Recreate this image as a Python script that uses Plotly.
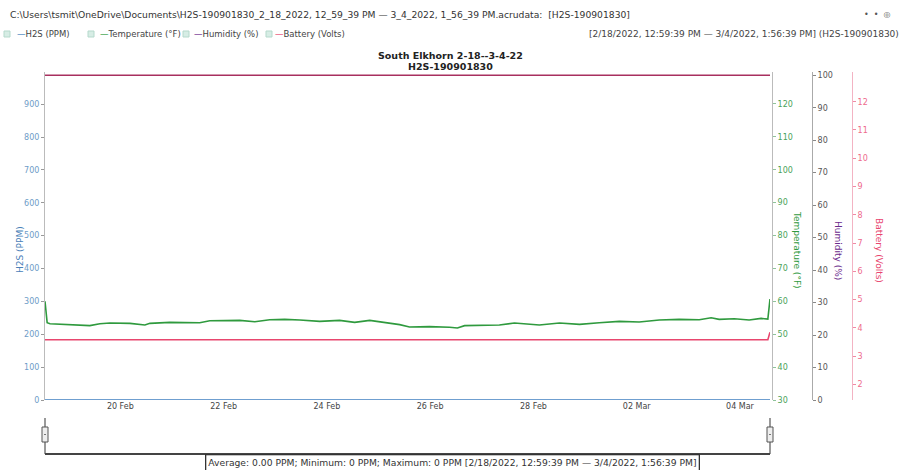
import plotly.graph_objects as go

# ---- logger run ---------------------------------------------------------
run_start = "2022-02-18 12:59:39"
run_end = "2022-03-04 13:56:39"
run_label = "[2/18/2022, 12:59:39 PM \u2014 3/4/2022, 1:56:39 PM]"
device = "H2S-190901830"

# ---- readings -------------------------------------------------------------
temp_times = [
    "2022-02-18 12:59:39", "2022-02-18 13:59:39", "2022-02-18 15:20", "2022-02-19 05:10",
    "2022-02-19 09:50", "2022-02-19 14:30", "2022-02-19 19:10", "2022-02-20 04:30",
    "2022-02-20 11:25", "2022-02-20 13:45", "2022-02-20 23:00", "2022-02-21 12:55",
    "2022-02-21 17:35", "2022-02-22 07:30", "2022-02-22 14:30", "2022-02-22 21:25",
    "2022-02-23 04:25", "2022-02-23 11:25", "2022-02-23 20:40", "2022-02-24 05:55",
    "2022-02-24 12:55", "2022-02-24 19:55", "2022-02-25 02:50", "2022-02-25 09:50",
    "2022-02-25 14:25", "2022-02-25 23:40", "2022-02-26 09:00", "2022-02-26 12:40",
    "2022-02-26 16:00", "2022-02-26 22:55", "2022-02-27 08:10", "2022-02-27 15:10",
    "2022-02-27 22:05", "2022-02-28 02:45", "2022-02-28 12:05", "2022-02-28 21:25",
    "2022-03-01 06:35", "2022-03-01 15:55", "2022-03-02 01:10", "2022-03-02 10:30",
    "2022-03-02 19:45", "2022-03-03 05:05", "2022-03-03 10:35", "2022-03-03 14:20",
    "2022-03-03 21:20", "2022-03-04 04:15", "2022-03-04 09:50", "2022-03-04 12:56:39",
    "2022-03-04 13:56:39",
]
temp_f = [
    60.0, 53.5, 53.2, 52.7, 52.6, 53.2, 53.4, 53.3,
    52.8, 53.3, 53.6, 53.5, 54.1, 54.2, 53.8, 54.4,
    54.5, 54.3, 53.9, 54.2, 53.6, 54.2, 53.5, 52.9,
    52.2, 52.3, 52.1, 51.9, 52.6, 52.7, 52.8, 53.4,
    53.1, 52.8, 53.4, 53.0, 53.5, 53.9, 53.7, 54.3,
    54.5, 54.4, 55.0, 54.5, 54.7, 54.3, 54.8, 54.6,
    60.7,
]

h2s_times = [run_start, run_end]
h2s_ppm = [0, 0]

humidity_times = [run_start, run_end]
humidity_pct = [100, 100]

battery_times = [run_start, "2022-03-04 12:56:39", run_end]
battery_v = [3.58, 3.58, 3.85]

h2s_ticks = [0, 100, 200, 300, 400, 500, 600, 700, 800, 900]
temp_ticks = [30, 40, 50, 60, 70, 80, 90, 100, 110, 120]
humidity_ticks = [0, 10, 20, 30, 40, 50, 60, 70, 80, 90, 100]
battery_ticks = [2, 3, 4, 5, 6, 7, 8, 9, 10, 11, 12]

# ---- colours / fonts ------------------------------------------------------
C_H2S = "#3f7fc0"
C_TEMP = "#2f9a3e"
C_HUM = "#a8305f"
C_HUM_TXT = "#6b2a8c"
C_BAT = "#e8466e"
TXT = "#3a3a3a"
FONT = "DejaVu Sans"

W, H = 899, 470
L, R, T, B = 45, 870, 72, 400      # paper box in page pixels
PLOT_R = 770                        # right edge of the data area


def px(x):
    return (x - L) / (R - L)


def py(y):
    return (B - y) / (B - T)


fig = go.Figure()
fig.add_trace(go.Scatter(x=h2s_times, y=h2s_ppm, mode="lines", name="H2S (PPM)",
                         line=dict(color=C_H2S, width=1.6), yaxis="y"))
fig.add_trace(go.Scatter(x=temp_times, y=temp_f, mode="lines", name="Temperature (\u00b0F)",
                         line=dict(color=C_TEMP, width=1.6), yaxis="y2"))
fig.add_trace(go.Scatter(x=humidity_times, y=humidity_pct, mode="lines", name="Humidity (%)",
                         line=dict(color=C_HUM, width=1.6), yaxis="y3"))
fig.add_trace(go.Scatter(x=battery_times, y=battery_v, mode="lines", name="Battery (Volts)",
                         line=dict(color=C_BAT, width=1.6), yaxis="y4"))

axis_common = dict(showgrid=False, zeroline=False, ticks="outside", ticklen=3,
                   tickwidth=1, showline=True, linewidth=1)

fig.update_layout(
    width=W, height=H,
    margin=dict(l=L, r=W - R, t=T, b=H - B),
    paper_bgcolor="white", plot_bgcolor="white",
    showlegend=False,
    font=dict(family=FONT, size=8, color=TXT),
    xaxis=dict(domain=[0, px(PLOT_R)], range=[run_start, run_end], type="date",
               tickformat="%d %b", dtick=2 * 86400000, tick0="2022-02-20",
               showgrid=False, zeroline=False, showline=False, ticks="",
               tickfont=dict(size=8, color="#444")),
    yaxis=dict(range=[0, 998], tickvals=h2s_ticks, linecolor="#bbbbbb", tickcolor="#999999",
               tickfont=dict(size=8, color="#6e9cc8"), **axis_common),
    yaxis2=dict(range=[30, 129.7], tickvals=temp_ticks, overlaying="y", side="right",
                anchor="free", position=px(772), linecolor="#bbbbbb", tickcolor="#8fc49a",
                tickfont=dict(size=8, color="#4aa35a"), **axis_common),
    yaxis3=dict(range=[0, 101], tickvals=humidity_ticks, overlaying="y", side="right",
                anchor="free", position=px(812), linecolor="#aaaaaa", tickcolor="#888888",
                tickfont=dict(size=8, color="#555555"), **axis_common),
    yaxis4=dict(range=[1.45, 13.05], tickvals=battery_ticks, overlaying="y", side="right",
                anchor="free", position=px(852), linecolor="#f3b3c3", tickcolor="#f08aa4",
                tickfont=dict(size=8, color="#ee6a8c"), **axis_common),
)

ann = []


def text(x, y, s, size=8, color=TXT, xanchor="left", angle=0, bold=False, **kw):
    ann.append(dict(x=px(x), y=py(y), xref="paper", yref="paper", text=s, showarrow=False,
                    xanchor=xanchor, yanchor="middle", textangle=angle,
                    font=dict(family=FONT, size=size, color=color,
                              weight="bold" if bold else "normal"), **kw))


# header rows
text(8, 15, "C:\\Users\\tsmit\\OneDrive\\Documents\\H2S-190901830_2_18_2022, 12_59_39 PM "
            "\u2014 3_4_2022, 1_56_39 PM.acrudata:  [" + device + "]", size=9.2, color="#333")
text(893, 15, "\u2022  \u2022  \u25ce", size=8, color="#555", xanchor="right")

legend_items = [(15, "H2S (PPM)", C_H2S), (98, "Temperature (\u00b0F)", C_TEMP),
                (192, "Humidity (%)", C_HUM_TXT), (273, "Battery (Volts)", C_BAT)]
for x0, label, col in legend_items:
    text(x0, 34, f'<span style="color:{col};">\u2014</span>{label}', size=8.5, color="#444")
text(901, 34, run_label + " (" + device + ")", size=9, color="#444", xanchor="right")

# chart title
text(450, 55, "South Elkhorn 2-18--3-4-22", size=9.5, color="#222", xanchor="center", bold=True)
text(450, 66, device, size=9.5, color="#222", xanchor="center", bold=True)

# axis titles
text(20, 250, "H2S (PPM)", size=9, color="#4a80b8", xanchor="center", angle=-90)
text(797, 250, "Temperature (\u00b0F)", size=9, color=C_TEMP, xanchor="center", angle=90)
text(838, 250, "Humidity (%)", size=9, color=C_HUM_TXT, xanchor="center", angle=90)
text(879, 250, "Battery (Volts)", size=9, color=C_BAT, xanchor="center", angle=90)

# summary of the H2S channel
avg = sum(h2s_ppm) / len(h2s_ppm)
summary = (f"Average: {avg:.2f} PPM; Minimum: {min(h2s_ppm)} PPM; "
           f"Maximum: {max(h2s_ppm)} PPM " + run_label)
ann.append(dict(x=px(452), y=py(463), xref="paper", yref="paper", text=summary,
                showarrow=False, xanchor="center", yanchor="middle",
                font=dict(family=FONT, size=9.2, color="#333"),
                bordercolor="#333", borderwidth=1.3, borderpad=2, bgcolor="white"))
fig.update_layout(annotations=ann)

shapes = []
# legend toggles
for x0 in (4, 88, 183, 266):
    shapes.append(dict(type="rect", xref="paper", yref="paper",
                       x0=px(x0), x1=px(x0 + 6), y0=py(37), y1=py(31),
                       line=dict(color="#b5d9cc", width=1), fillcolor="#d7ede5"))

# range selector bracket under the time axis
for xe in (L, PLOT_R):
    shapes.append(dict(type="line", xref="paper", yref="paper", x0=px(xe), x1=px(xe),
                       y0=py(418), y1=py(454), line=dict(color="#555", width=1.2)))
    shapes.append(dict(type="rect", xref="paper", yref="paper",
                       x0=px(xe - 3), x1=px(xe + 3), y0=py(427), y1=py(442),
                       line=dict(color="#555", width=1), fillcolor="#eeeeee"))
    shapes.append(dict(type="line", xref="paper", yref="paper", x0=px(xe - 1), x1=px(xe + 1),
                       y0=py(434.5), y1=py(434.5), line=dict(color="#777", width=1)))
shapes.append(dict(type="line", xref="paper", yref="paper", x0=px(L), x1=px(PLOT_R),
                   y0=py(454), y1=py(454), line=dict(color="#444", width=1.8)))
fig.update_layout(shapes=shapes)

fig.write_html("out.html", config={"displayModeBar": False})
